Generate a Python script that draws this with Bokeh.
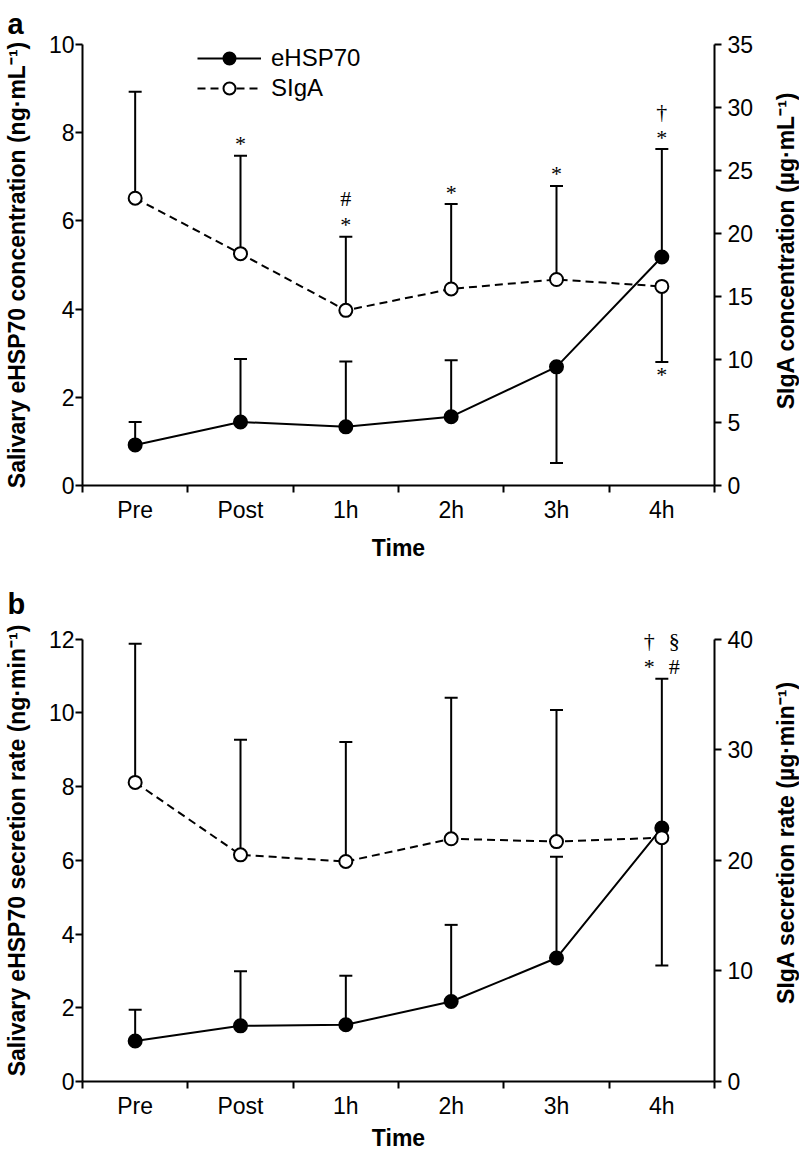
import math
from bokeh.plotting import figure
from bokeh.models import (ColumnDataSource, Range1d, LinearAxis, FixedTicker,
                          SingleIntervalTicker, Whisker, TeeHead, Legend,
                          LegendItem, Label)
from bokeh.layouts import column, row
from bokeh.core.properties import value
from bokeh.embed import file_html
from bokeh.resources import INLINE

categories = ["Pre", "Post", "1h", "2h", "3h", "4h"]

# Panel a: concentrations
ehsp_conc_mean = [0.92, 1.44, 1.33, 1.56, 2.69, 5.18]
ehsp_conc_sd = [0.52, 1.43, 1.48, 1.28, 2.18, 2.45]
ehsp_conc_dir = [1, 1, 1, 1, -1, 1]
siga_conc_mean = [22.8, 18.4, 13.9, 15.6, 16.35, 15.8]
siga_conc_sd = [8.45, 7.77, 5.84, 6.74, 7.42, 6.0]
siga_conc_dir = [1, 1, 1, 1, 1, -1]

# Panel b: secretion rates
ehsp_rate_mean = [1.10, 1.51, 1.54, 2.17, 3.35, 6.88]
ehsp_rate_sd = [0.85, 1.48, 1.33, 2.08, 2.75, 4.05]
ehsp_rate_dir = [1, 1, 1, 1, 1, 1]
siga_rate_mean = [27.05, 20.5, 19.9, 21.95, 21.7, 22.05]
siga_rate_sd = [12.55, 10.4, 10.8, 12.75, 11.9, 11.55]
siga_rate_dir = [1, 1, 1, 1, 1, -1]

# Significance symbols
sig_a_cat = ["Post", "1h", "1h", "2h", "3h", "4h", "4h", "4h"]
sig_a_series = ["SIgA", "SIgA", "SIgA", "SIgA", "SIgA", "eHSP70", "eHSP70", "SIgA"]
sig_a_symbol = ["*", "*", "#", "*", "*", "*", "\u2020", "*"]
sig_a_row = [1, 1, 2, 1, 1, 1, 2, 1]
sig_a_col = [0, 0, 0, 0, 0, 0, 0, 0]

sig_b_cat = ["4h", "4h", "4h", "4h"]
sig_b_series = ["eHSP70", "eHSP70", "eHSP70", "eHSP70"]
sig_b_symbol = ["*", "#", "\u2020", "\u00a7"]
sig_b_row = [1, 1, 2, 2]
sig_b_col = [-1, 1, -1, 1]

FONT = "Liberation Sans"
W_MAIN = 771
W_SIDE = 28
AXIS_H = 448  # pixel height of the 0..max span of the y axes


def make_panel(letter, left_label, ehsp, siga, left_max, left_step,
               right_max, right_step, sig, height, top_border, bottom_border,
               time_standoff, letter_standoff, head, legend):
    n = len(categories)
    xs = [i + 0.5 for i in range(n)]
    stretch = (AXIS_H + head) / AXIS_H
    p = figure(width=W_MAIN, height=height, x_range=Range1d(0, n),
               y_range=Range1d(0, left_max * stretch), output_backend="svg",
               toolbar_location=None, min_border_left=79,
               min_border_right=W_MAIN - 79 - 635,
               min_border_top=top_border, min_border_bottom=bottom_border)
    p.extra_y_ranges = {"siga": Range1d(0, right_max * stretch)}
    p.xgrid.visible = False
    p.ygrid.visible = False
    p.outline_line_color = None

    # panel letter
    p.title.text = letter
    p.title.align = "left"
    p.title.offset = -75
    p.title.standoff = letter_standoff
    p.title.text_font = FONT
    p.title.text_font_size = "29px"
    p.title.text_font_style = "bold"
    p.title.text_color = "black"

    # x axis
    xa = p.xaxis[0]
    xa.ticker = FixedTicker(ticks=xs, minor_ticks=list(range(n + 1)))
    xa.major_label_overrides = {xs[i]: categories[i] for i in range(n)}
    xa.major_tick_out = 0
    xa.major_tick_in = 0
    xa.minor_tick_out = 7
    xa.minor_tick_in = 0
    xa.minor_tick_line_width = 2
    xa.axis_line_width = 2
    xa.major_label_standoff = 4
    xa.major_label_text_font = FONT
    xa.major_label_text_font_size = "23px"
    xa.major_label_text_color = "black"
    xa.axis_label = "Time"
    xa.axis_label_text_font = FONT
    xa.axis_label_text_font_style = "bold"
    xa.axis_label_text_font_size = "23px"
    xa.axis_label_text_color = "black"
    xa.axis_label_standoff = time_standoff

    def style_y(ax, standoff, top):
        ax.bounds = (0, top)
        ax.major_tick_out = 7
        ax.major_tick_in = 0
        ax.minor_tick_out = 0
        ax.minor_tick_in = 0
        ax.major_tick_line_width = 2
        ax.axis_line_width = 2
        ax.major_label_standoff = standoff
        ax.major_label_text_font = FONT
        ax.major_label_text_font_size = "23px"
        ax.major_label_text_color = "black"

    ya = p.yaxis[0]
    ya.ticker = SingleIntervalTicker(interval=left_step, num_minor_ticks=0)
    style_y(ya, 1, left_max)
    ya.axis_label = left_label
    ya.axis_label_text_font = FONT
    ya.axis_label_text_font_style = "bold"
    ya.axis_label_text_font_size = "23px"
    ya.axis_label_text_color = "black"
    ya.axis_label_standoff = 16

    ra = LinearAxis(y_range_name="siga",
                    ticker=SingleIntervalTicker(interval=right_step, num_minor_ticks=0))
    style_y(ra, 6, right_max)
    p.add_layout(ra, "right")

    series = {
        "eHSP70": (ehsp, "default", "black", None),
        "SIgA": (siga, "siga", "white", "8 5"),
    }
    renderers = {}
    # error bars
    for name, (data, rng, fill, dash) in series.items():
        mean, sd, dirs = data
        up = [i for i in range(n) if dirs[i] > 0]
        dn = [i for i in range(n) if dirs[i] < 0]
        if up:
            src = ColumnDataSource(dict(x=[xs[i] for i in up],
                                        lower=[mean[i] for i in up],
                                        upper=[mean[i] + sd[i] for i in up]))
            p.add_layout(Whisker(source=src, base="x", lower="lower", upper="upper",
                                 lower_head=None,
                                 upper_head=TeeHead(size=13, line_width=2, line_color="black"),
                                 line_width=2, line_color="black", level="underlay",
                                 y_range_name=rng))
        if dn:
            src = ColumnDataSource(dict(x=[xs[i] for i in dn],
                                        lower=[mean[i] - sd[i] for i in dn],
                                        upper=[mean[i] for i in dn]))
            p.add_layout(Whisker(source=src, base="x", lower="lower", upper="upper",
                                 upper_head=None,
                                 lower_head=TeeHead(size=13, line_width=2, line_color="black"),
                                 line_width=2, line_color="black", level="underlay",
                                 y_range_name=rng))
    # lines
    for name, (data, rng, fill, dash) in series.items():
        mean = data[0]
        kw = dict(line_width=2, line_color="black", y_range_name=rng)
        if dash:
            kw["line_dash"] = dash
        renderers[name + "_line"] = p.line(xs, mean, **kw)
    # markers
    for name, (data, rng, fill, dash) in series.items():
        mean = data[0]
        renderers[name + "_pt"] = p.scatter(xs, mean, marker="circle", size=13,
                                            fill_color=fill, line_color="black",
                                            line_width=2, y_range_name=rng)

    # significance symbols
    s_cat, s_series, s_sym, s_row, s_col = sig
    row_off = {1: 12, 2: 38}
    for name, (data, rng, fill, dash) in series.items():
        mean, sd, dirs = data
        idx = [k for k in range(len(s_cat)) if s_series[k] == name]
        if not idx:
            continue
        tx, ty, tt, xo, yo = [], [], [], [], []
        for k in idx:
            i = categories.index(s_cat[k])
            d = dirs[i]
            tx.append(xs[i])
            ty.append(mean[i] + d * sd[i])
            tt.append(s_sym[k])
            xo.append(s_col[k] * 12.5)
            yo.append(-d * row_off[s_row[k]])
        src = ColumnDataSource(dict(x=tx, y=ty, t=tt, xo=xo, yo=yo))
        p.text(x="x", y="y", text="t", x_offset="xo", y_offset="yo", source=src,
               text_font=value("Liberation Serif"), text_font_size=value("22px"),
               text_align="center", text_baseline="middle", text_color="black",
               y_range_name=rng)

    if legend:
        lg = Legend(items=[
            LegendItem(label="eHSP70", renderers=[renderers["eHSP70_line"], renderers["eHSP70_pt"]]),
            LegendItem(label="SIgA", renderers=[renderers["SIgA_line"], renderers["SIgA_pt"]]),
        ], location=(115, AXIS_H + head - 66), glyph_width=64, glyph_height=30, spacing=0,
            padding=0, margin=0, label_standoff=10, border_line_color=None,
            background_fill_alpha=0, label_text_font=FONT,
            label_text_font_size="24px", label_text_color="black")
        p.add_layout(lg)
    return p


def make_side_title(text, height, center_above_axis_mid):
    # narrow strip holding the right-hand (SIgA) axis title, reading bottom-to-top;
    # its frame is aligned with the neighbouring plot frame by the row layout
    s = figure(width=W_SIDE, height=height, x_range=Range1d(0, 1), y_range=Range1d(0, 1),
               output_backend="svg", toolbar_location=None,
               x_axis_location=None, y_axis_location=None,
               min_border=0, min_border_left=0, min_border_right=0,
               min_border_top=0, min_border_bottom=0)
    s.xgrid.visible = False
    s.ygrid.visible = False
    s.outline_line_color = None
    s.add_layout(Label(x=W_SIDE / 2, y=AXIS_H / 2 + center_above_axis_mid,
                       x_units="screen", y_units="screen", text=text,
                       angle=math.pi / 2, text_align="center", text_baseline="middle",
                       text_font=FONT, text_font_size="23px", text_font_style="bold",
                       text_color="black"))
    return s


H_A, H_B = 563, 590

pa = make_panel("a", "Salivary eHSP70 concentration (ng\u00b7mL\u207b\u00b9)",
                (ehsp_conc_mean, ehsp_conc_sd, ehsp_conc_dir),
                (siga_conc_mean, siga_conc_sd, siga_conc_dir),
                10, 2, 35, 5,
                (sig_a_cat, sig_a_series, sig_a_symbol, sig_a_row, sig_a_col),
                H_A, 44, 71, 9, 10, 0, True)
sa = make_side_title("SIgA concentration (\u00b5g\u00b7mL\u207b\u00b9)", H_A, 11)

pb = make_panel("b", "Salivary eHSP70 secretion rate (ng\u00b7min\u207b\u00b9)",
                (ehsp_rate_mean, ehsp_rate_sd, ehsp_rate_dir),
                (siga_rate_mean, siga_rate_sd, siga_rate_dir),
                12, 2, 40, 10,
                (sig_b_cat, sig_b_series, sig_b_symbol, sig_b_row, sig_b_col),
                H_B, 56, 66, 3, 0, 20, False)
sb = make_side_title("SIgA secretion rate (\u00b5g\u00b7min\u207b\u00b9)", H_B, 15)

layout = column(row(pa, sa), row(pb, sb))
open("out.html", "w").write(file_html(layout, INLINE))
